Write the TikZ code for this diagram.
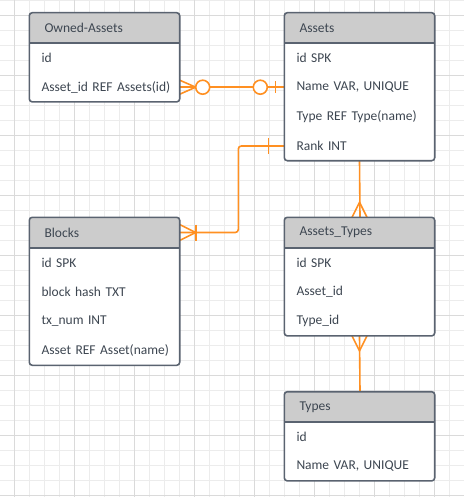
\documentclass[tikz,border=0pt]{standalone}
\usepackage{fontspec}
\setmainfont{Carlito}
\usetikzlibrary{positioning,calc}
\definecolor{edgegray}{HTML}{5A6370}
\definecolor{ink}{HTML}{3D4651}
\definecolor{headgray}{HTML}{CCCCCC}
\definecolor{relorange}{HTML}{FF9022}
\definecolor{gridminor}{HTML}{ECECEC}
\definecolor{gridmajor}{HTML}{DADADA}
\pgfdeclarelayer{grid}
\pgfdeclarelayer{boxes}
\pgfsetlayers{grid,boxes,main}

\begin{document}
\begin{tikzpicture}[x=1pt,y=-1pt,
	head/.style={anchor=north west,minimum width=150pt,minimum height=30pt,inner xsep=15pt,inner ysep=0pt,
		text width=120pt,align=left,text=ink,font=\fontsize{13.5}{15}\selectfont},
	row/.style={below=0pt of #1,minimum width=150pt,minimum height=29pt,inner xsep=4pt,inner ysep=0pt,
		text width=142pt,align=left,text=ink,font=\fontsize{13.5}{15}\selectfont,
		execute at begin node=\hspace*{8pt}},
	tablebox/.style={draw=edgegray,line width=1.6pt,rounded corners=3pt},
	rel/.style={draw=relorange,line width=1.6pt}]
	\useasboundingbox (0,0) rectangle (464,497);
	% grid
	\begin{pgfonlayer}{grid}
		\foreach \i in {0,...,29} \draw[gridminor,line width=0.8pt] ({14.3+15*\i},0) -- ({14.3+15*\i},497);
		\foreach \i in {0,...,33} \draw[gridminor,line width=0.8pt] (0,{15*\i}) -- (464,{15*\i});
		\foreach \i in {0,...,7} \draw[gridmajor,line width=0.8pt] ({14.3+60*\i},0) -- ({14.3+60*\i},497);
		\foreach \i in {0,...,8} \draw[gridmajor,line width=0.8pt] (0,{15+60*\i}) -- (464,{15+60*\i});
	\end{pgfonlayer}

	% tables
	\node[head] (owned) at (29.3,12.7) {Owned-Assets};
	\node[row=owned] (owned-1) {id};
	\node[row=owned-1] (owned-2) {Asset\_id REF Assets(id)};

	\node[head] (assets) at (284.3,12.7) {Assets};
	\node[row=assets] (assets-1) {id SPK};
	\node[row=assets-1] (assets-2) {Name VAR, UNIQUE};
	\node[row=assets-2] (assets-3) {Type REF Type(name)};
	\node[row=assets-3] (assets-4) {Rank INT};

	\node[head] (blocks) at (29.3,217.3) {Blocks};
	\node[row=blocks] (blocks-1) {id SPK};
	\node[row=blocks-1] (blocks-2) {block hash TXT};
	\node[row=blocks-2] (blocks-3) {tx\_num INT};
	\node[row=blocks-3] (blocks-4) {Asset REF Asset(name)};

	\node[head] (atypes) at (284.3,217.3) {Assets\_Types};
	\node[row=atypes] (atypes-1) {id SPK};
	\node[row=atypes-1] (atypes-2) {Asset\_id};
	\node[row=atypes-2] (atypes-3) {Type\_id};

	\node[head] (types) at (284.3,391.7) {Types};
	\node[row=types] (types-1) {id};
	\node[row=types-1] (types-2) {Name VAR, UNIQUE};

	\begin{pgfonlayer}{boxes}
		\foreach \tb/\lr in {owned/owned-2,assets/assets-4,blocks/blocks-4,atypes/atypes-3,types/types-2} {
			\begin{scope}
				\clip[rounded corners=3pt] (\tb.north west) rectangle (\lr.south east);
				\fill[white] (\tb.south west) rectangle (\lr.south east);
				\fill[headgray] (\tb.north west) rectangle (\tb.south east);
			\end{scope}
		}
	\end{pgfonlayer}

	% Owned-Assets -- Assets
	\draw[rel] (owned-2.east) -- (assets-2.west);
	\draw[rel] ($(owned-2.east)+(0,-7)$) -- ($(owned-2.east)+(16,0)$) -- ($(owned-2.east)+(0,7)$);
	\draw[rel,fill=white] ($(owned-2.east)+(23,0)$) circle[radius=7pt];
	\draw[rel,fill=white] ($(assets-2.west)+(-24,0)$) circle[radius=7pt];
	\draw[rel] ($(assets-2.west)+(-9,-6)$) -- ($(assets-2.west)+(-9,6)$);

	% Assets -- Blocks
	\draw[rel,rounded corners=3pt] (assets-4.west) -- ++(-46,0) |- (blocks.east);
	\draw[rel] ($(assets-4.west)+(-16,-8)$) -- ($(assets-4.west)+(-16,8)$);
	\draw[rel] ($(blocks.east)+(0,-8)$) -- ($(blocks.east)+(16,0)$) -- ($(blocks.east)+(0,8)$);
	\draw[rel] ($(blocks.east)+(16,-8)$) -- ($(blocks.east)+(16,8)$);

	% Assets -- Assets_Types
	\draw[rel] (assets-4.south) -- ($(atypes.north)+(0.5,0)$);
	\draw[rel] ($(atypes.north)+(-7.5,0)$) -- ($(atypes.north)+(0,-15)$) -- ($(atypes.north)+(7.5,0)$);

	% Assets_Types -- Types
	\draw[rel] (atypes-3.south) -- ($(types.north)+(0.5,0)$);
	\draw[rel] ($(atypes-3.south)+(-7.5,0)$) -- ($(atypes-3.south)+(0,15)$) -- ($(atypes-3.south)+(7.5,0)$);

	\foreach \tb/\lr in {owned/owned-2,assets/assets-4,blocks/blocks-4,atypes/atypes-3,types/types-2} {
		\draw[tablebox] (\tb.north west) rectangle (\lr.south east);
		\draw[draw=edgegray,line width=1.6pt] (\tb.south west) -- (\tb.south east);
	}
\end{tikzpicture}
\end{document}
